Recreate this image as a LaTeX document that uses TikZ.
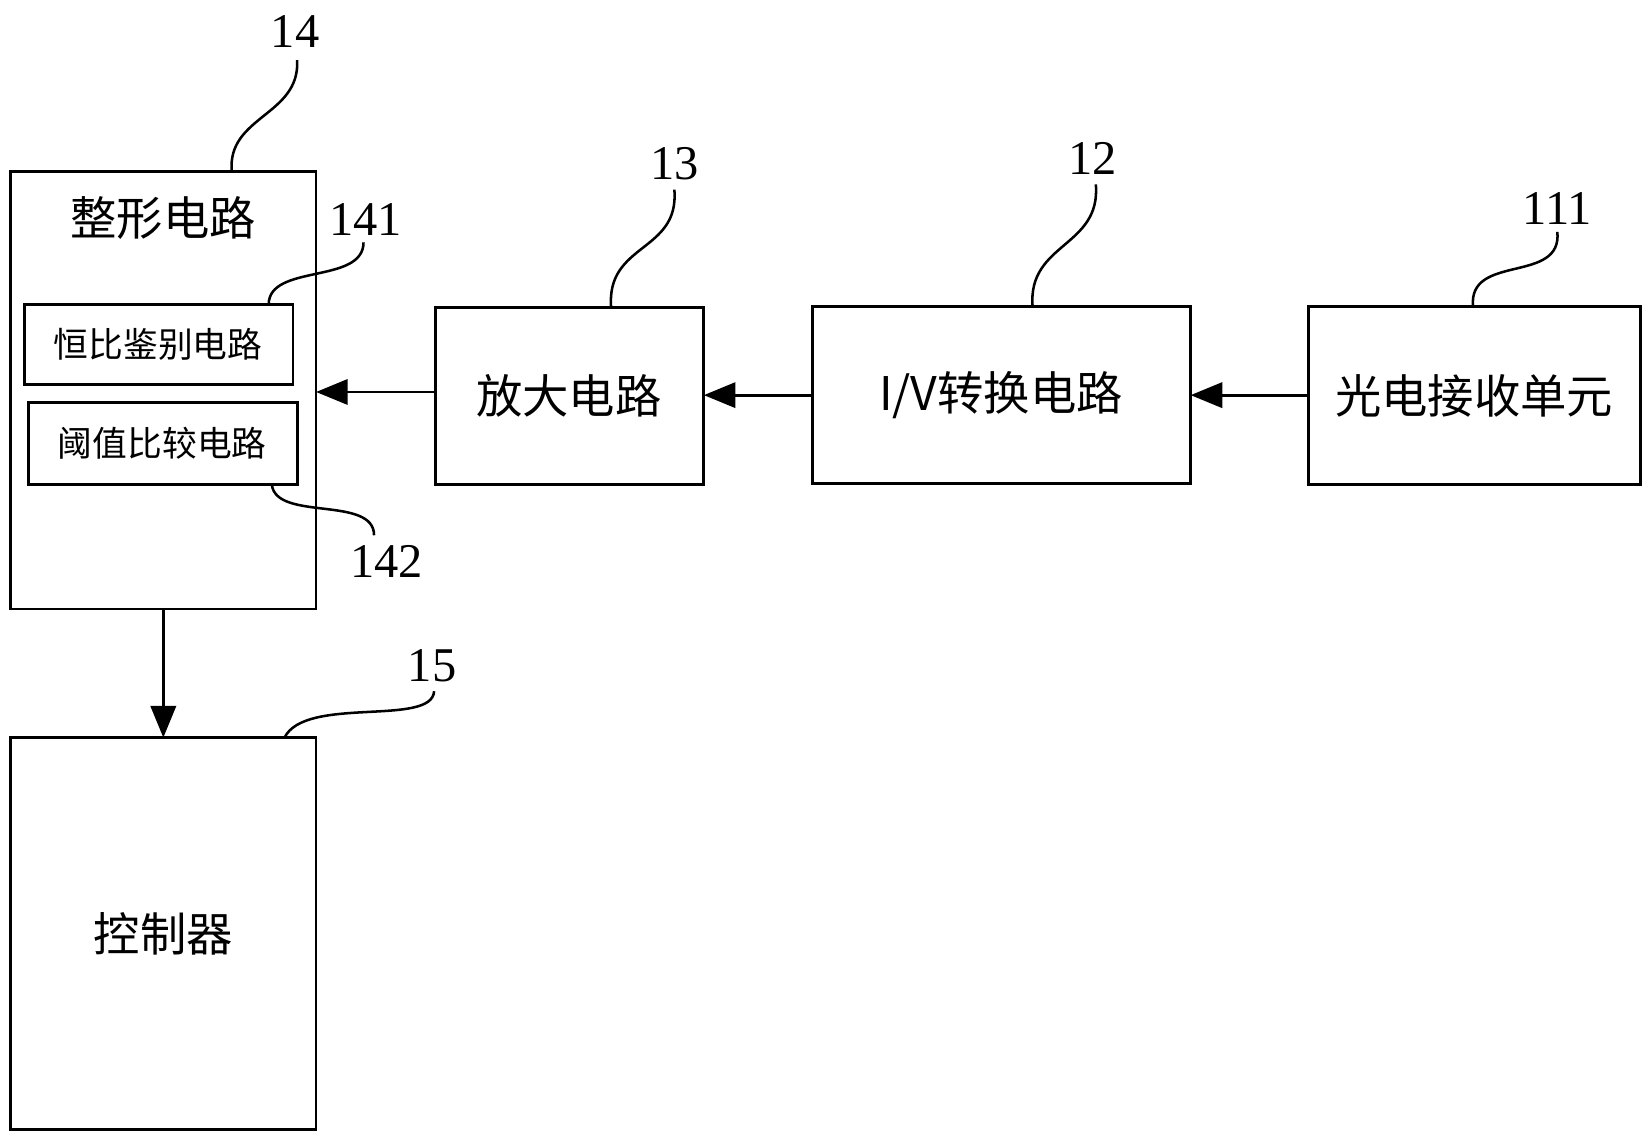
\documentclass[tikz,border=0pt]{standalone}
\usepackage{fontspec}
\setmainfont{Liberation Serif}
\newfontfamily\cjk{Noto Sans CJK SC}
\usetikzlibrary{arrows.meta}
\begin{document}
\begin{tikzpicture}[x=1pt,y=-1pt,line width=2.6pt,
  box/.style={draw,rectangle,inner sep=0pt},
  num/.style={font=\fontsize{46}{46}\selectfont},
  big/.style={font=\fontsize{44}{44}\selectfont\cjk},
  small/.style={font=\fontsize{33}{33}\selectfont\cjk},
  arr/.style={-{Triangle[length=30pt,width=24pt]}},
  lead/.style={line width=2.4pt}]
\useasboundingbox (0,0) rectangle (1565,1085);
\draw[box] (10,163) rectangle (300,578);
\node[big] (t14) at (155,207) {整形电路};
\draw[box] (23,289) rectangle (278,365);
\node[small] (b141) at (150,327) {恒比鉴别电路};
\draw[box] (27,382) rectangle (282,460);
\node[small] (b142) at (154,421) {阈值比较电路};
\draw[box] (413,292) rectangle (668,460);
\node[big] at (540,376) {放大电路};
\draw[box] (771,291) rectangle (1130,459);
\node[big] at (950,375) {I/V\cjk 转换电路};
\draw[box] (1242,291) rectangle (1557,460);
\node[big] at (1399,376) {光电接收单元};
\draw[box] (10,700) rectangle (300,1072);
\node[big] at (155,886) {控制器};
% labels
\node[num] (n14) at (280,30) {14};
\node[num] (n141) at (347,208) {141};
\node[num] (n142) at (367,533) {142};
\node[num] (n13) at (640,155) {13};
\node[num] (n12) at (1037,150) {12};
\node[num] (n111) at (1478,198) {111};
\node[num] (n15) at (410,632) {15};
\coordinate (c14) at (220,163); \coordinate (e14) at (282,57);
\coordinate (c141) at (255,289); \coordinate (e141) at (345,230);
\coordinate (c142) at (258,460); \coordinate (e142) at (355,508);
\coordinate (c13) at (580,292); \coordinate (e13) at (640,180);
\coordinate (c12) at (980,291); \coordinate (e12) at (1040,175);
\coordinate (c111) at (1398,291); \coordinate (e111) at (1478,220);
\coordinate (c15) at (270,700); \coordinate (e15) at (412,656);
\draw[lead] (c14) .. controls (215,110) and (285,110) .. (e14);
\draw[lead] (c141) .. controls (255,250) and (345,270) .. (e141);
\draw[lead] (c142) .. controls (262,495) and (355,470) .. (e142);
\draw[lead] (c13) .. controls (575,230) and (645,240) .. (e13);
\draw[lead] (c12) .. controls (975,230) and (1045,235) .. (e12);
\draw[lead] (c111) .. controls (1393,240) and (1483,270) .. (e111);
\draw[lead] (c15) .. controls (290,660) and (410,690) .. (e15);
% arrows
\coordinate (a1) at (1242,375); \coordinate (a1e) at (1130,375);
\coordinate (a2) at (771,375); \coordinate (a2e) at (668,375);
\coordinate (a3) at (413,372); \coordinate (a3e) at (300,372);
\coordinate (a4) at (155,578); \coordinate (a4e) at (155,700);
\draw[arr] (a1) -- (a1e);
\draw[arr] (a2) -- (a2e);
\draw[arr] (a3) -- (a3e);
\draw[arr] (a4) -- (a4e);
\end{tikzpicture}
\end{document}
